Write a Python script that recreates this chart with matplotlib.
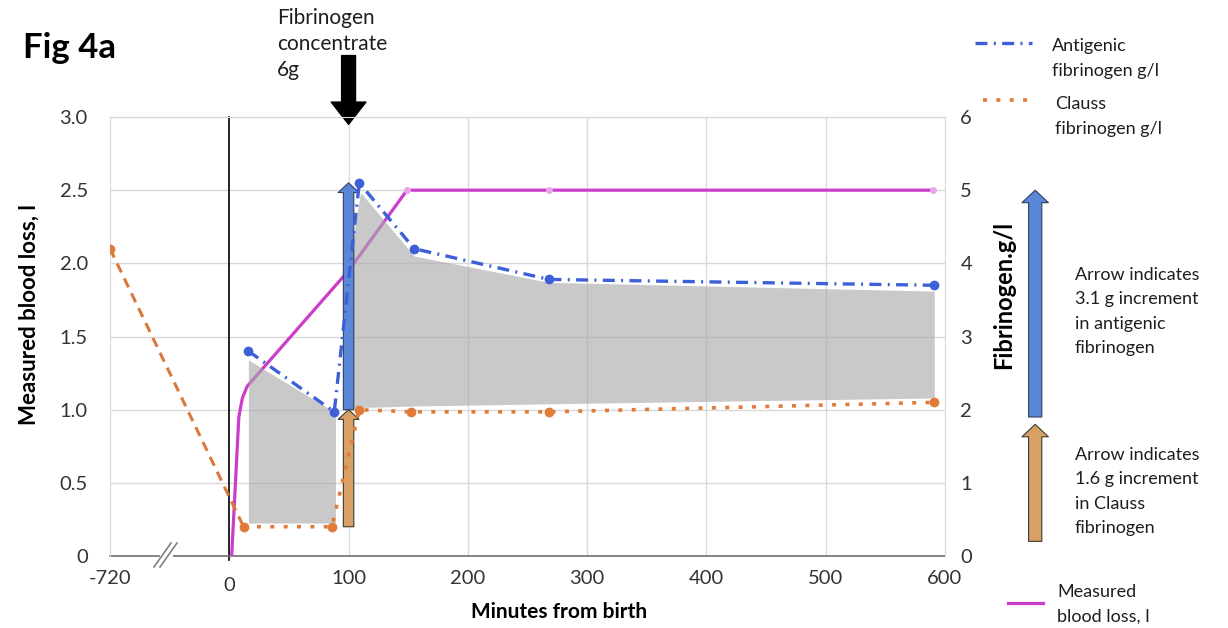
import numpy as np
import matplotlib
matplotlib.use("Agg")
import matplotlib.pyplot as plt
from matplotlib import transforms
from matplotlib.lines import Line2D

plt.rcParams["font.family"] = ["Lato", "DejaVu Sans"]

# ---- data -------------------------------------------------------------
# minutes from birth (-720 = sample taken before delivery, on a broken axis)
clauss_min = [-720, 12, 86, 109, 152, 268, 591]
clauss_gl = [4.2, 0.4, 0.4, 2.0, 1.97, 1.97, 2.1]

antigenic_min = [16, 88, 109, 155, 268, 591]
antigenic_gl = [2.8, 1.97, 5.1, 4.2, 3.78, 3.7]

blood_loss_min = [2, 8, 11, 15, 100, 149, 268, 590]
blood_loss_l = [0.0, 0.95, 1.08, 1.16, 1.95, 2.5, 2.5, 2.5]

# shaded gap between the antigenic and Clauss assays
band1_min = [16, 89]
band1_top = [2.68, 1.96]
band1_bottom = [0.45, 0.45]
band2_min = [100, 110, 155, 268, 591]
band2_top = [3.95, 4.97, 4.1, 3.74, 3.62]
band2_bottom = [2.02, 2.03, 2.05, 2.08, 2.16]

dose_min = 100
clauss_before, clauss_increment = 0.4, 1.6
antigenic_before, antigenic_increment = 2.0, 3.1

x_ticks = [-720, 0, 100, 200, 300, 400, 500, 600]
x_labels = ["-720", "0", "100", "200", "300", "400", "500", "600"]
left_ticks = [0, 0.5, 1.0, 1.5, 2.0, 2.5, 3.0]
left_labels = ["0", "0.5", "1.0", "1.5", "2.0", "2.5", "3.0"]
right_ticks = [0, 1, 2, 3, 4, 5, 6]
right_labels = ["0", "1", "2", "3", "4", "5", "6"]

# ---- colours ----------------------------------------------------------
BLUE = "#3d5fd8"
ORANGE = "#e07b39"
MAGENTA = "#cc3dcc"
GRID = "#d9d9d9"
TICK = "#333333"
TEXT = "#1e1e1e"

# pre-birth part of the time axis is compressed: 720 min take 100 units
PRE = 100 / 720


def fwd(x):
    x = np.asarray(x, float)
    return np.where(x < 0, x * PRE, x)


def inv(x):
    x = np.asarray(x, float)
    return np.where(x < 0, x / PRE, x)


W, H = 1228, 628
fig = plt.figure(figsize=(W / 100, H / 100), dpi=100)
ax = fig.add_axes([110 / W, 1 - 556 / H, 835 / W, 439 / H])
ax2 = ax.twinx()

ax.set_xscale("function", functions=(fwd, inv))
ax.set_xlim(-720, 600)
ax.set_ylim(0, 3.0)
ax2.set_ylim(0, 6)

# grid & frame
for v in x_ticks[2:-1]:
    ax.axvline(v, color=GRID, lw=1.0, zorder=0)
for v in left_ticks[1:]:
    ax.axhline(v, color=GRID, lw=1.0, zorder=0)
for s in ("left", "right", "top"):
    ax.spines[s].set_color(GRID)
    ax2.spines[s].set_color(GRID)
ax.spines["bottom"].set_color("#6e6e6e")
ax.spines["bottom"].set_linewidth(1.2)
ax2.spines["bottom"].set_visible(False)
ax.plot([0, 0], [-0.03, 3.0], color="black", lw=1.2, clip_on=False, zorder=1)

ax.set_xticks(x_ticks)
ax.set_xticklabels(x_labels)
ax.set_yticks(left_ticks)
ax.set_yticklabels(left_labels)
ax2.set_yticks(right_ticks)
ax2.set_yticklabels(right_labels)
ax.tick_params(axis="x", length=0, pad=10, labelsize=14.5, labelcolor=TICK)
ax.tick_params(axis="y", length=0, pad=16, labelsize=14.5, labelcolor=TICK)
ax2.tick_params(axis="y", length=0, pad=11, labelsize=14.5, labelcolor=TICK)
ax.xaxis.set_minor_locator(matplotlib.ticker.NullLocator())
ax.get_xticklabels()[1].set_y(-0.016)

ax.set_xlabel("Minutes from birth", fontsize=15, fontweight="bold")
ax.xaxis.set_label_coords(0.538, -0.104)
ax.set_ylabel("Measured blood loss, l", fontsize=16, fontweight="bold")
ax.yaxis.set_label_coords(-0.084, 0.549)
ax2.set_ylabel("Fibrinogen.g/l", fontsize=17, fontweight="bold")
ax2.yaxis.set_label_coords(1.057, 0.595)

# measured blood loss (left axis)
ax.plot(blood_loss_min, blood_loss_l, color=MAGENTA, lw=2.3, zorder=3,
        solid_joinstyle="round")
ax.plot(blood_loss_min[-3:], blood_loss_l[-3:], ls="none", marker="o", ms=4,
        color="#e7a6e7", zorder=3)

# shaded band
ax2.fill_between(band1_min, band1_bottom, band1_top, color="#a9a9a9",
                 alpha=0.62, lw=0, zorder=4)
ax2.fill_between(band2_min, band2_bottom, band2_top, color="#a9a9a9",
                 alpha=0.62, lw=0, zorder=4)

# dose arrows at the concentrate infusion
small = "simple,head_length=0.7,head_width=1.5,tail_width=0.75"
ax2.annotate("", xy=(dose_min, clauss_before + clauss_increment),
             xytext=(dose_min, clauss_before),
             arrowprops=dict(arrowstyle=small, fc="#d9a066", ec="#3b3b2b", lw=0.8,
                             shrinkA=0, shrinkB=0, mutation_scale=10), zorder=5)
ax2.annotate("", xy=(dose_min, antigenic_before + antigenic_increment),
             xytext=(dose_min, antigenic_before),
             arrowprops=dict(arrowstyle=small, fc="#5b87d8", ec="#2f3f5f", lw=0.8,
                             shrinkA=0, shrinkB=0, mutation_scale=10), zorder=5)

# Clauss fibrinogen (right axis)
ax2.plot(clauss_min[:2], clauss_gl[:2], color="#d9783a", lw=2.2,
         ls=(0, (3.2, 2.2)), zorder=6)
ax2.plot(clauss_min[1:], clauss_gl[1:], color=ORANGE, lw=2.6,
         ls=(0, (1.1, 2.6)), zorder=6)
ax2.plot(clauss_min, clauss_gl, ls="none", marker="o", ms=6, color=ORANGE,
         zorder=6)

# antigenic fibrinogen (right axis)
ax2.plot(antigenic_min, antigenic_gl, color=BLUE, lw=2.4,
         ls=(0, (3.6, 1.9, 0.6, 1.9)), marker="o", ms=6, zorder=7)

# concentrate infusion marker
ax.annotate("", xy=(dose_min, 2.95), xytext=(dose_min, 3.42),
            xycoords="data", annotation_clip=False,
            arrowprops=dict(arrowstyle="simple,head_length=1.6,head_width=2.5,tail_width=1.0",
                            fc="black", ec="black", shrinkA=0, shrinkB=0,
                            mutation_scale=10))

# legend arrows beside the right axis, sized by the stated increments
side = transforms.blended_transform_factory(ax2.transAxes, ax2.transData)
big = "simple,head_length=0.9,head_width=1.9,tail_width=0.95"
ax2.annotate("", xy=(1.108, 1.9 + antigenic_increment), xytext=(1.108, 1.9),
             xycoords=side, textcoords=side, annotation_clip=False,
             arrowprops=dict(arrowstyle=big, fc="#5b87d8", ec="#2f3f5f", lw=0.8,
                             shrinkA=0, shrinkB=0, mutation_scale=10))
ax2.annotate("", xy=(1.108, 0.2 + clauss_increment), xytext=(1.108, 0.2),
             xycoords=side, textcoords=side, annotation_clip=False,
             arrowprops=dict(arrowstyle=big, fc="#d9a066", ec="#3b3b2b", lw=0.8,
                             shrinkA=0, shrinkB=0, mutation_scale=10))

# overlay in pixel units for text and legend keys
deco = fig.add_axes([0, 0, 1, 1], zorder=10)
deco.set_xlim(0, W)
deco.set_ylim(H, 0)
deco.axis("off")
deco.patch.set_alpha(0)

# axis break
deco.plot([162, 171], [556, 556], color="white", lw=3)
deco.plot([154, 171], [567, 543], color="#808080", lw=1.2)
deco.plot([160, 177], [567, 543], color="#808080", lw=1.2)

deco.text(23, 48, "Fig 4a", fontsize=25, fontweight="bold", va="center")
deco.text(277, 44, "Fibrinogen\nconcentrate\n6g", fontsize=15, va="center",
          linespacing=1.4, color=TEXT)

deco.add_line(Line2D([975, 1032], [43, 43], color=BLUE, lw=2.4,
                     ls=(0, (3.6, 1.9, 0.6, 1.9))))
deco.add_line(Line2D([983, 1033], [100, 100], color=ORANGE, lw=2.6,
                     ls=(0, (1.1, 2.6))))
deco.add_line(Line2D([1008, 1043], [603, 603], color=MAGENTA, lw=2.3))

txt = dict(fontsize=13, va="center", linespacing=1.65, color=TEXT)
deco.text(1052, 58.5, "Antigenic\nfibrinogen g/l", **txt)
deco.text(1055, 116.5, "Clauss\nfibrinogen g/l", **txt)
deco.text(1075, 311.5, "Arrow indicates\n3.1 g increment\nin antigenic\nfibrinogen", **txt)
deco.text(1075, 491.5, "Arrow indicates\n1.6 g increment\nin Clauss\nfibrinogen", **txt)
deco.text(1057, 604.5, "Measured\nblood loss, l", **txt)

fig.savefig("out.png", dpi=100)
